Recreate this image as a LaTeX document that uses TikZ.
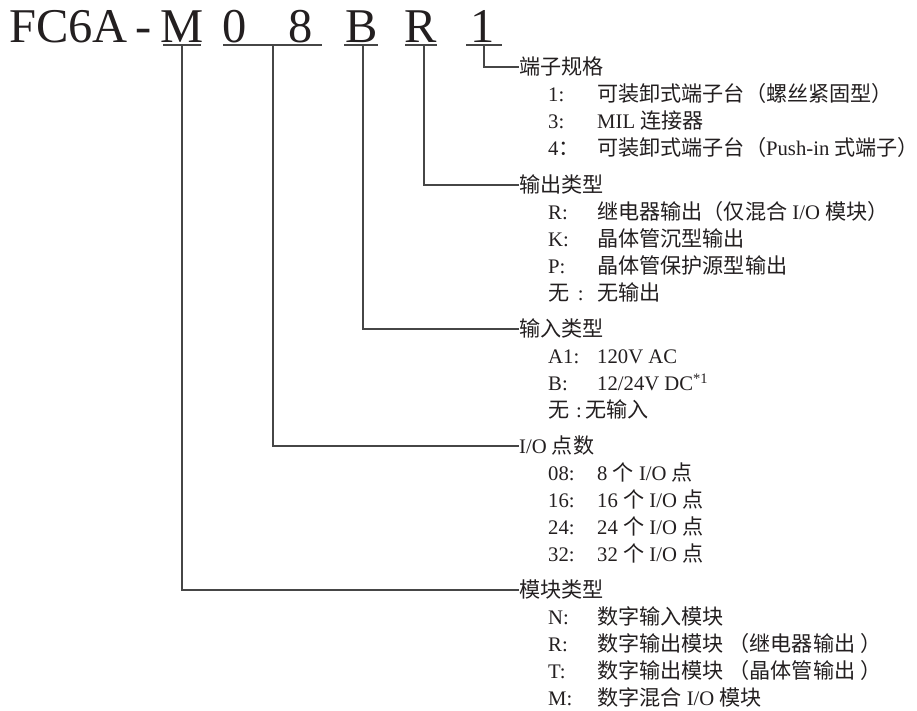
\documentclass[tikz,border=0pt]{standalone}
\usepackage{fontspec}
\setmainfont{Liberation Serif}
\newfontfamily\cjkfont[Scale=1.02]{Noto Sans CJK SC}
\newcommand\zh[1]{{\cjkfont #1}}
\newcommand\lsz{\fontsize{20.7}{24}\selectfont}
\definecolor{txt}{RGB}{35,31,32}
\definecolor{ln}{RGB}{70,70,70}
\begin{document}
\begin{tikzpicture}[x=1pt,y=-1pt,
  title/.style={font=\fontsize{48.5}{50}\selectfont, inner sep=0pt, anchor=base, text=txt},
  hdr/.style={font=\lsz, inner sep=0pt, anchor=west, text height=18pt, text depth=2.5pt, text=txt},
  keyn/.style={hdr},
  valn/.style={hdr},
  uline/.style={draw=ln, line width=1.2pt},
  conn/.style={draw=ln, line width=1.2pt},
]
\useasboundingbox (0,0) rectangle (917,710);

% title
\node[title, anchor=base west] (tF) at (9,42) {FC6A};
\node[title] (tDash) at (144,42) {-};
\node[title] (tM) at (182,42) {M};
\node[title] (t0) at (235,42) {0};
\node[title] (t8) at (301,42) {8};
\node[title] (tB) at (362,42) {B};
\node[title] (tR) at (421,42) {R};
\node[title] (t1) at (483,42) {1};

% underline centres
\coordinate (uM) at (182,45);
\coordinate (u08) at (273,45);
\coordinate (uB) at (363,45);
\coordinate (uR) at (424,45);
\coordinate (u1) at (484,45);

\draw[uline] (163,45) -- (201,45);
\draw[uline] (223,45) -- (322,45);
\draw[uline] (344,45) -- (378,45);
\draw[uline] (405,45) -- (437,45);
\draw[uline] (466,45) -- (502,45);

% headers
\node[hdr] (hTerm) at (519,67) {\zh{端子规格}};
\node[hdr] (hOut) at (519,185) {\zh{输出类型}};
\node[hdr] (hIn) at (519,329) {\zh{输入类型}};
\node[hdr] (hIO) at (519,446) {I/O \zh{点数}};
\node[hdr] (hMod) at (519,590) {\zh{模块类型}};

% connectors
\draw[conn] (u1) |- (hTerm.west);
\draw[conn] (uR) |- (hOut.west);
\draw[conn] (uB) |- (hIn.west);
\draw[conn] (u08) |- (hIO.west);
\draw[conn] (uM) |- (hMod.west);

% terminal
\node[keyn] (k11) at (548,94) {1:};
\node[valn] (v11) at (597,94) {\zh{可装卸式端子台（螺丝紧固型）}};
\node[keyn] (k12) at (548,121) {3:};
\node[valn] (v12) at (597,121) {MIL \zh{连接器}};
\node[keyn] (k13) at (548,148) {4\zh{：}};
\node[valn] (v13) at (597,148) {\zh{可装卸式端子台（}Push-in \zh{式端子}\makebox[0.5em][l]{\zh{）}}};

% output
\node[keyn] (k21) at (548,212) {R:};
\node[valn] (v21) at (597,212) {\zh{继电器输出（仅混合} I/O \zh{模块）}};
\node[keyn] (k22) at (548,239) {K:};
\node[valn] (v22) at (597,239) {\zh{晶体管沉型输出}};
\node[keyn] (k23) at (548,266) {P:};
\node[valn] (v23) at (597,266) {\zh{晶体管保护源型输出}};
\node[keyn] (k24) at (548,293) {\zh{无}\ \,:};
\node[valn] (v24) at (597,293) {\zh{无输出}};

% input
\node[keyn] (k31) at (548,356) {A1:};
\node[valn] (v31) at (597,356) {120V AC};
\node[keyn] (k32) at (548,383) {B:};
\node[valn] (v32) at (597,383) {12/24V DC\textsuperscript{*1}};
\node[keyn] (k33) at (548,410) {\zh{无}\,\,:\,\zh{无输入}};

% I/O points
\node[keyn] (k41) at (548,473) {08:};
\node[valn] (v41) at (597,473) {8 \zh{个} I/O \zh{点}};
\node[keyn] (k42) at (548,500) {16:};
\node[valn] (v42) at (597,500) {16 \zh{个} I/O \zh{点}};
\node[keyn] (k43) at (548,527) {24:};
\node[valn] (v43) at (597,527) {24 \zh{个} I/O \zh{点}};
\node[keyn] (k44) at (548,554) {32:};
\node[valn] (v44) at (597,554) {32 \zh{个} I/O \zh{点}};

% module
\node[keyn] (k51) at (548,617) {N:};
\node[valn] (v51) at (597,617) {\zh{数字输入模块}};
\node[keyn] (k52) at (548,644) {R:};
\node[valn] (v52) at (597,644) {\zh{数字输出模块 （继电器输出 ）}};
\node[keyn] (k53) at (548,671) {T:};
\node[valn] (v53) at (597,671) {\zh{数字输出模块 （晶体管输出 ）}};
\node[keyn] (k54) at (548,698) {M:};
\node[valn] (v54) at (597,698) {\zh{数字混合} I/O \zh{模块}};
\end{tikzpicture}
\end{document}
